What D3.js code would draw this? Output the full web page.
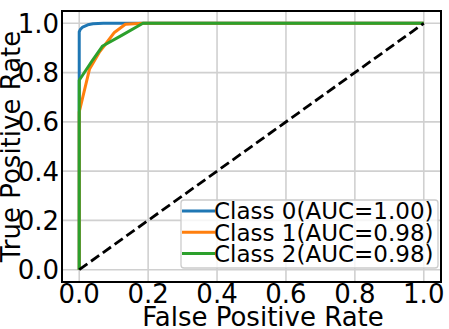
<!doctype html>
<html>
<head>
    <style>
        body { margin: 0; background: #fff; }
        text { font-family: "DejaVu Sans", sans-serif; fill: #000; }
    </style>
    <script src="https://cdn.jsdelivr.net/npm/d3@7"></script>
</head>
<body>
<svg width="449" height="329"></svg>
<script>

    // ROC curve points
    var fpr0 = [0, 0, 0.003, 0.01, 0.025, 0.04, 0.07, 1];
    var tpr0 = [0, 0.965, 0.975, 0.985, 0.994, 0.998, 1, 1];
    var fpr1 = [0, 0, 0.03, 0.058, 0.08, 0.102, 0.134, 0.185, 1];
    var tpr1 = [0, 0.64, 0.815, 0.882, 0.922, 0.963, 0.996, 1, 1];
    var fpr2 = [0, 0, 0.039, 0.068, 0.122, 0.185, 1];
    var tpr2 = [0, 0.769, 0.851, 0.908, 0.95, 1, 1];
    var classNames = ["Class 0(AUC=1.00)", "Class 1(AUC=0.98)", "Class 2(AUC=0.98)"];
    var tickValues = [0, 0.2, 0.4, 0.6, 0.8, 1.0];

    var colors = ["#1f77b4", "#ff7f0e", "#2ca02c"];
    var curves = [[fpr0, tpr0], [fpr1, tpr1], [fpr2, tpr2]];

    var svg = d3.select("svg");
    var pLeft = 62, pRight = 441, pTop = 11, pBottom = 282;

    var x = d3.scaleLinear().domain([-0.05, 1.05]).range([pLeft, pRight]);
    var y = d3.scaleLinear().domain([-0.05, 1.05]).range([pBottom, pTop]);

    // grid
    svg.append("g").selectAll("line")
       .data(tickValues)
       .enter().append("line")
       .attr("x1", function(d) { return x(d); })
       .attr("x2", function(d) { return x(d); })
       .attr("y1", pTop).attr("y2", pBottom)
       .attr("stroke", "#d0d0d0").attr("stroke-width", 1.6);
    svg.append("g").selectAll("line")
       .data(tickValues)
       .enter().append("line")
       .attr("y1", function(d) { return y(d); })
       .attr("y2", function(d) { return y(d); })
       .attr("x1", pLeft).attr("x2", pRight)
       .attr("stroke", "#d0d0d0").attr("stroke-width", 1.6);

    // curves
    var line = d3.line()
        .x(function(d) { return x(d[0]); })
        .y(function(d) { return y(d[1]); });

    curves.forEach(function(c, i) {
        var pts = c[0].map(function(v, j) { return [v, c[1][j]]; });
        svg.append("path")
           .datum(pts)
           .attr("d", line)
           .attr("fill", "none")
           .attr("stroke", colors[i])
           .attr("stroke-width", 3)
           .attr("stroke-linejoin", "round");
    });

    // chance line
    svg.append("path")
       .datum([[0, 0], [1, 1]])
       .attr("d", line)
       .attr("fill", "none")
       .attr("stroke", "#000")
       .attr("stroke-width", 2.8)
       .attr("stroke-dasharray", "10,4.5");

    // frame
    svg.append("rect")
       .attr("x", pLeft).attr("y", pTop)
       .attr("width", pRight - pLeft).attr("height", pBottom - pTop)
       .attr("fill", "none").attr("stroke", "#000").attr("stroke-width", 2);

    // tick labels
    svg.append("g").selectAll("text")
       .data(tickValues)
       .enter().append("text")
       .attr("x", function(d) { return x(d); })
       .attr("y", 303)
       .attr("text-anchor", "middle")
       .attr("font-size", "26px")
       .text(function(d) { return d.toFixed(1); });
    svg.append("g").selectAll("text")
       .data(tickValues)
       .enter().append("text")
       .attr("x", 59)
       .attr("y", function(d) { return y(d) + 9.5; })
       .attr("text-anchor", "end")
       .attr("font-size", "26px")
       .text(function(d) { return d.toFixed(1); });

    // axis titles
    svg.append("text")
       .attr("x", 263)
       .attr("y", 326)
       .attr("text-anchor", "middle")
       .attr("font-size", "26px")
       .text("False Positive Rate");
    svg.append("text")
       .attr("transform", "translate(20," + ((pTop + pBottom) / 2) + ") rotate(-90)")
       .attr("text-anchor", "middle")
       .attr("font-size", "26px")
       .text("True Positive Rate");

    // legend
    var lg = svg.append("g");
    lg.append("rect")
      .attr("x", 181).attr("y", 200)
      .attr("width", 257).attr("height", 68)
      .attr("rx", 3)
      .attr("fill", "#fff").attr("fill-opacity", 0.8)
      .attr("stroke", "#cccccc").attr("stroke-width", 1.3);
    classNames.forEach(function(name, i) {
        var yy = 211 + i * 21.3;
        lg.append("line")
          .attr("x1", 182).attr("x2", 215)
          .attr("y1", yy).attr("y2", yy)
          .attr("stroke", colors[i]).attr("stroke-width", 3);
        lg.append("text")
          .attr("x", 214)
          .attr("y", yy + 8.4)
          .attr("font-size", "23px")
          .text(name);
    });

</script>
</body>
</html>
